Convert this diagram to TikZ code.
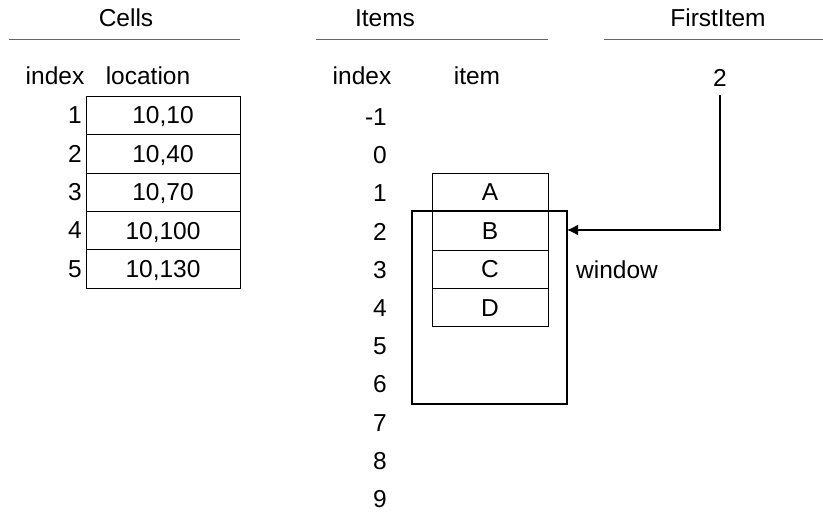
\documentclass[tikz,border=0pt]{standalone}
\usepackage{fontspec}
\setmainfont{Liberation Sans}
\usetikzlibrary{arrows.meta}
\tikzset{
  txt/.style={inner sep=0pt,font=\fontsize{24.5}{28}\selectfont},
  cellbox/.style={draw,thin,minimum width=154,minimum height=38.4,inner sep=0pt,text height=17.5pt,text depth=0pt,font=\fontsize{24.5}{28}\selectfont},
  itembox/.style={draw,thin,minimum width=116,minimum height=38.4,inner sep=0pt,text height=17.5pt,text depth=0pt,font=\fontsize{24.5}{28}\selectfont},
  rule/.style={draw=black!60,line width=1pt}
}

\begin{document}
\begin{tikzpicture}[x=1pt,y=-1pt]
  \useasboundingbox (0,0) rectangle (823,512);

  % headings
  \node[txt] (cellsT) at (126,18) {Cells};
  \node[txt] (itemsT) at (385,18) {Items};
  \node[txt] (firstT) at (718,18) {FirstItem};
  \draw[rule] (9,39) -- (240,39);
  \draw[rule] (316,39) -- (548,39);
  \draw[rule] (604,39) -- (823,39);

  % cells table
  \node[txt] (cidx) at (55,76) {index};
  \node[txt] (cloc) at (148,76) {location};
  \foreach \i/\loc in {1/{10,10},2/{10,40},3/{10,70},4/{10,100},5/{10,130}}{
    \node[cellbox] (cell\i) at (163,{96+38.4*(\i-0.5)}) {\loc};
    \node[txt,anchor=east] (cnum\i) at (82,{96+38.4*(\i-0.5)}) {\i};
  }

  % items table
  \node[txt] (iidx) at (362,76) {index};
  \node[txt] (iitem) at (477,76) {item};
  \foreach \k [count=\n from 0] in {-1,0,...,9}{
    \node[txt,anchor=east] (inum\n) at (387,{117+38.2*\n}) {\k};
  }
  \foreach \c [count=\n from 0] in {A,B,C,D}{
    \node[itembox] (item\c) at (490,{192.2+38.4*\n}) {\c};
  }

  % window
  \draw[line width=1.5pt] (412,211) rectangle (567,404);
  \coordinate (winE) at (567,230);
  \node[txt] (winL) at (617,270) {window};

  % first item pointer
  \node[txt] (first) at (720,78) {2};
  \draw[line width=1.5pt,-{Latex[length=11pt,width=11pt]}] ([yshift=-8pt]first.south) |- (winE);
\end{tikzpicture}
\end{document}
